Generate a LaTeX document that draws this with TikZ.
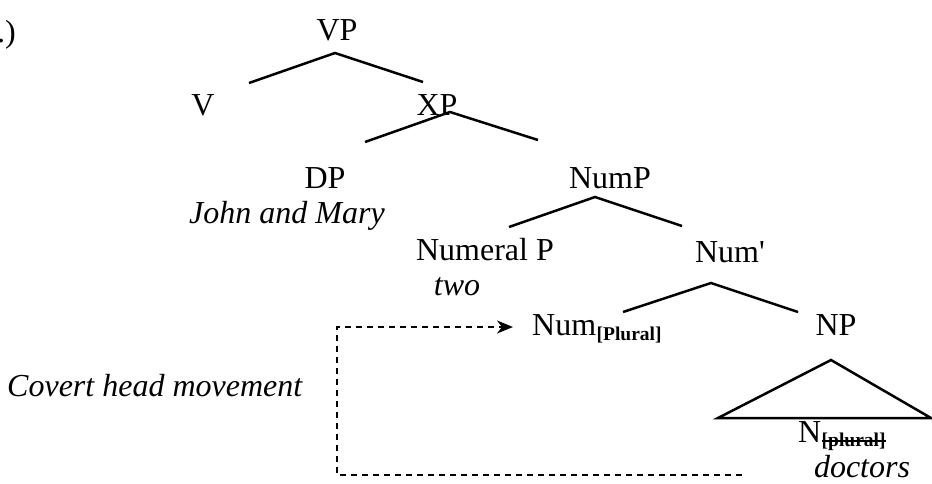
\documentclass[tikz,border=0pt]{standalone}
\usepackage{fontspec}
\setmainfont{Liberation Serif}
\newfontfamily\rawser{Liberation Serif}
\usetikzlibrary{arrows.meta}
\begin{document}
\begin{tikzpicture}[x=1pt,y=-1pt,
  lab/.style={inner sep=0pt, anchor=base, font=\fontsize{32}{38}\selectfont},
  ital/.style={inner sep=0pt, anchor=base, font=\fontsize{32}{38}\selectfont\itshape},
  subs/.style={inner sep=0pt, anchor=base west, font=\fontsize{19.5}{22}\selectfont\bfseries},
  branch/.style={line width=2.5pt},
  mv/.style={line width=2pt, dash pattern=on 6pt off 5pt}]
\useasboundingbox (0,0) rectangle (932,483);
% labels
\node[lab, anchor=base east] (exnum) at (16,42) {.)};
\node[lab] (VP) at (337,40) {VP};
\node[lab] (V) at (203,115) {V};
\node[lab] (XP) at (437,115) {XP};
\node[lab] (DP) at (325,188) {DP};
\node[ital] (JM) at (287,223) {John and Mary};
\node[lab] (NumP) at (610,188) {NumP};
\node[lab] (NumeralP) at (485,260) {Numeral P};
\node[ital] (two) at (457,295) {two};
\node[lab] (Numbar) at (730,262) {Num{\rawser '}};
\node[lab, anchor=base west] (Num) at (532,335) {Num};
\node[subs, yshift=-5pt] (Numsub) at (Num.base east) {[Plural]};
\node[lab] (NP) at (836,335) {NP};
\node[lab, anchor=base west] (N) at (798,442) {N};
\node[subs, yshift=-4pt] (Nsub) at (N.base east) {[plural]};
\node[ital] (doc) at (862,477) {doctors};
\node[ital, anchor=base west] (chm) at (7,396) {Covert head movement};
% strike-through
\draw[line width=1.6pt] ([yshift=5pt]Nsub.base west) -- ([yshift=5pt]Nsub.base east);
% branch points
\coordinate (vpt) at (335,53);
\coordinate (vl) at (249,83);
\coordinate (vr) at (423,82);
\coordinate (xpt) at (450,112);
\coordinate (xl) at (365,142);
\coordinate (xr) at (538,140);
\coordinate (npt) at (595,197);
\coordinate (npl) at (509,227);
\coordinate (npr) at (682,226);
\coordinate (nbt) at (711,283);
\coordinate (nbl) at (623,312);
\coordinate (nbr) at (798,312);
\coordinate (tt) at (831,360);
\coordinate (tl) at (718,418);
\coordinate (tr) at (931,418);
\draw[branch] (vl) -- (vpt) -- (vr);
\draw[branch] (xl) -- (xpt) -- (xr);
\draw[branch] (npl) -- (npt) -- (npr);
\draw[branch] (nbl) -- (nbt) -- (nbr);
\draw[branch, line join=miter] (tl) -- (tt) -- (tr) -- cycle;
% covert movement
\coordinate (c1) at (337,327);
\coordinate (c2) at (337,475);
\coordinate (c3) at (742,475);
\draw[mv, shorten >=19pt, -{Stealth[length=16pt,width=13pt,inset=5pt]}] (c3) -- (c2) -- (c1) -- (c1 -| Num.west);
\end{tikzpicture}
\end{document}
